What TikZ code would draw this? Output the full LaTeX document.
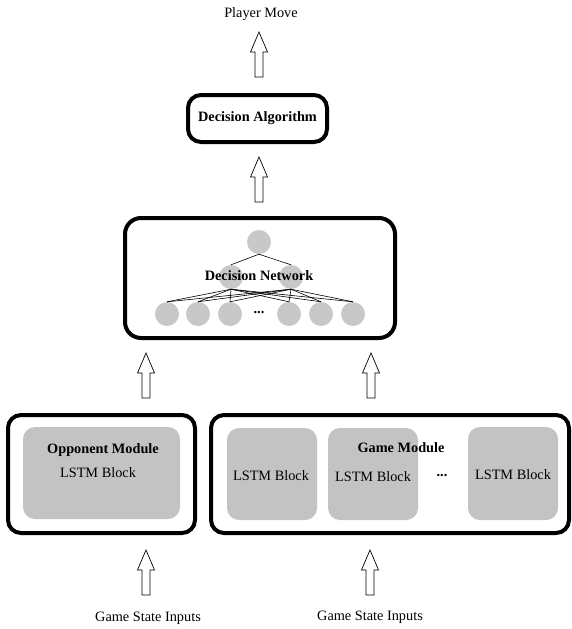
\documentclass[tikz,border=0pt]{standalone}
\usepackage{fontspec}
\setmainfont{Liberation Serif}
\begin{document}
\begin{tikzpicture}[x=1pt,y=-1pt,
  outerbox/.style={draw=black,line width=4pt,rounded corners=13pt,fill=white},
  innerbox/.style={fill=lstmgray,draw=none,rounded corners=12pt},
  neuron/.style={circle,fill=neurongray,draw=none,minimum size=24pt,inner sep=0pt},
  lbl/.style={font=\fontsize{14.3}{16}\selectfont,inner sep=0pt},
  blbl/.style={font=\fontsize{14.3}{16}\selectfont\bfseries,inner sep=0pt},
  link/.style={draw=black,line width=0.6pt},
  uparrow/.pic={\draw[line width=0.7pt,fill=white] (-4,0) -- (-4,-25) -- (-8.5,-25) -- (0,-45) -- (8.5,-25) -- (4,-25) -- (4,0) -- cycle;}
]
\definecolor{lstmgray}{RGB}{195,195,195}
\definecolor{neurongray}{RGB}{200,200,200}
\useasboundingbox (0,0) rectangle (571,629);

% top
\node[lbl] (move) at (261,14) {Player Move};
\pic at (259,77) {uparrow};
\node[outerbox,minimum width=139pt,minimum height=47pt] (alg) at (257.5,118.5) {};
\node[blbl] (algt) at (alg.center) {Decision Algorithm};
\pic at (259,202) {uparrow};

% decision network
\node[outerbox,minimum width=270pt,minimum height=120pt,rounded corners=16pt] (net) at (260,278) {};
\node[neuron] (t) at (259,242) {};
\node[neuron] (m1) at (231,277) {};
\node[neuron] (m2) at (291,277) {};
\foreach \x/\n in {167/b1,198/b2,230/b3,289/b4,321/b5,353/b6}
  \node[neuron] (\n) at (\x,314) {};
\draw[link] (t.south) -- (m1.north);
\draw[link] (t.south) -- (m2.north);
\foreach \m in {m1,m2}
  \foreach \n in {b1,b2,b3,b4,b5,b6}
    \draw[link] (\m.south) -- (\n.north);
\node[blbl] (dots1) at (259,313) {...};
\node[blbl] (nett) at (259,276) {Decision Network};

% arrows into network
\pic at (146,398) {uparrow};
\pic at (371,398) {uparrow};

% opponent module
\node[outerbox,minimum width=187pt,minimum height=118pt] (opp) at (101.5,474) {};
\node[innerbox,minimum width=157pt,minimum height=92pt] (oppin) at (101.5,473) {};
\node[blbl] (oppt) at (103,450) {Opponent Module};
\node[lbl] (opps) at (98,473) {LSTM Block};

% game module
\node[outerbox,minimum width=358pt,minimum height=118pt] (game) at (390,474) {};
\node[innerbox,minimum width=90pt,minimum height=92pt] (g1) at (272,474) {};
\node[innerbox,minimum width=90pt,minimum height=92pt] (g2) at (373,474) {};
\node[innerbox,minimum width=90pt,minimum height=93pt] (g3) at (513,473.5) {};
\node[blbl] (gamet) at (401,448) {Game Module};
\node[lbl] (g1t) at (271,476) {LSTM Block};
\node[lbl] (g2t) at (373,477) {LSTM Block};
\node[lbl] (g3t) at (513,475) {LSTM Block};
\node[blbl] (dots2) at (442,476) {...};

% inputs
\pic at (146,595) {uparrow};
\pic at (370,595) {uparrow};
\node[lbl] (in1) at (148,618) {Game State Inputs};
\node[lbl] (in2) at (370,617) {Game State Inputs};
\end{tikzpicture}
\end{document}
